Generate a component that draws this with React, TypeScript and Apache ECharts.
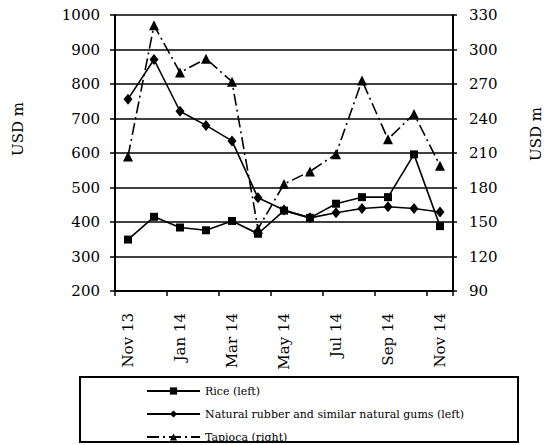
import React, { useEffect, useRef } from "react";
import * as echarts from "echarts";

const categories = ["Nov 13", "Dec 13", "Jan 14", "Feb 14", "Mar 14", "Apr 14", "May 14", "Jun 14", "Jul 14", "Aug 14", "Sep 14", "Oct 14", "Nov 14"];
const rice = [349, 415, 384, 376, 403, 366, 433, 412, 453, 472, 472, 596, 388];
const rubber = [756, 871, 721, 680, 635, 470, 435, 412, 427, 439, 444, 439, 429];
const tapioca = [207, 321, 280, 292, 272, 144, 183, 194, 209, 273, 222, 244, 199];

const seriesNames = ["Rice (left)", "Natural rubber and similar natural gums (left)", "Tapioca (right)"];
const axisTitle = "USD m";

const FONT = "DejaVu Serif";
const fmt = (v: number) => String(v);

export default function App() {
  const ref = useRef<HTMLDivElement>(null);
  useEffect(() => {
    if (!ref.current) return;
    const chart = echarts.init(ref.current, undefined, { renderer: "svg" });
    chart.setOption({
      animation: false,
      backgroundColor: "#fff",
      textStyle: { color: "#000", fontFamily: FONT },
      grid: { left: 115, right: 91, top: 15, bottom: 154, containLabel: false },
      xAxis: {
        type: "category",
        data: categories,
        boundaryGap: true,
        axisLine: { lineStyle: { color: "#000", width: 2 } },
        axisTick: { show: true, interval: 1, length: 5, lineStyle: { color: "#000", width: 1.5 } },
        axisLabel: { interval: 1, rotate: 90, margin: 22, fontSize: 15, color: "#000", fontFamily: FONT },
        splitLine: { show: false },
      },
      yAxis: [
        {
          type: "value",
          min: 200,
          max: 1000,
          interval: 100,
          axisLine: { show: true, lineStyle: { color: "#000", width: 2 } },
          axisTick: { show: true, length: 5, lineStyle: { color: "#000", width: 1.5 } },
          axisLabel: { margin: 15, fontSize: 15, color: "#000", fontFamily: FONT, formatter: fmt },
          splitLine: { show: true, lineStyle: { color: "#000", width: 1.6 } },
        },
        {
          type: "value",
          min: 90,
          max: 330,
          interval: 30,
          position: "right",
          axisLine: { show: true, lineStyle: { color: "#000", width: 2 } },
          axisTick: { show: true, length: 4, lineStyle: { color: "#000", width: 1.5 } },
          axisLabel: { margin: 16, fontSize: 15, color: "#000", fontFamily: FONT, formatter: fmt },
          splitLine: { show: false },
        },
      ],
      legend: {
        orient: "vertical",
        left: 146,
        top: 384,
        padding: 0,
        itemWidth: 53,
        itemHeight: 9,
        itemGap: 9,
        data: seriesNames,
        textStyle: { fontFamily: FONT, fontSize: 11, color: "#000", lineHeight: 14 },
      },
      graphic: [
        {
          type: "rect",
          shape: { x: 80, y: 377, width: 438, height: 65 },
          style: { fill: "none", stroke: "#000", lineWidth: 2 },
          silent: true,
        },
        {
          type: "text",
          x: 18,
          y: 129,
          rotation: Math.PI / 2,
          style: { text: axisTitle, fontFamily: FONT, fontSize: 15, fill: "#000", align: "center", verticalAlign: "middle" },
        },
        {
          type: "text",
          x: 536,
          y: 134,
          rotation: Math.PI / 2,
          style: { text: axisTitle, fontFamily: FONT, fontSize: 15, fill: "#000", align: "center", verticalAlign: "middle" },
        },
      ],
      series: [
        {
          name: seriesNames[0],
          type: "line",
          yAxisIndex: 0,
          data: rice,
          symbol: "rect",
          symbolSize: 8,
          itemStyle: { color: "#000" },
          lineStyle: { color: "#000", width: 1.6 },
        },
        {
          name: seriesNames[1],
          type: "line",
          yAxisIndex: 0,
          data: rubber,
          symbol: "diamond",
          symbolSize: [9, 11],
          itemStyle: { color: "#000" },
          lineStyle: { color: "#000", width: 1.6 },
        },
        {
          name: seriesNames[2],
          type: "line",
          yAxisIndex: 1,
          data: tapioca,
          symbol: "triangle",
          symbolSize: 10,
          itemStyle: { color: "#000" },
          lineStyle: { color: "#000", width: 1.6, type: [12, 4, 2, 4] },
        },
      ],
    });
    return () => chart.dispose();
  }, []);
  return <div ref={ref} style={{ width: 544, height: 445, position: "absolute", left: 0, top: 0 }} />;
}
